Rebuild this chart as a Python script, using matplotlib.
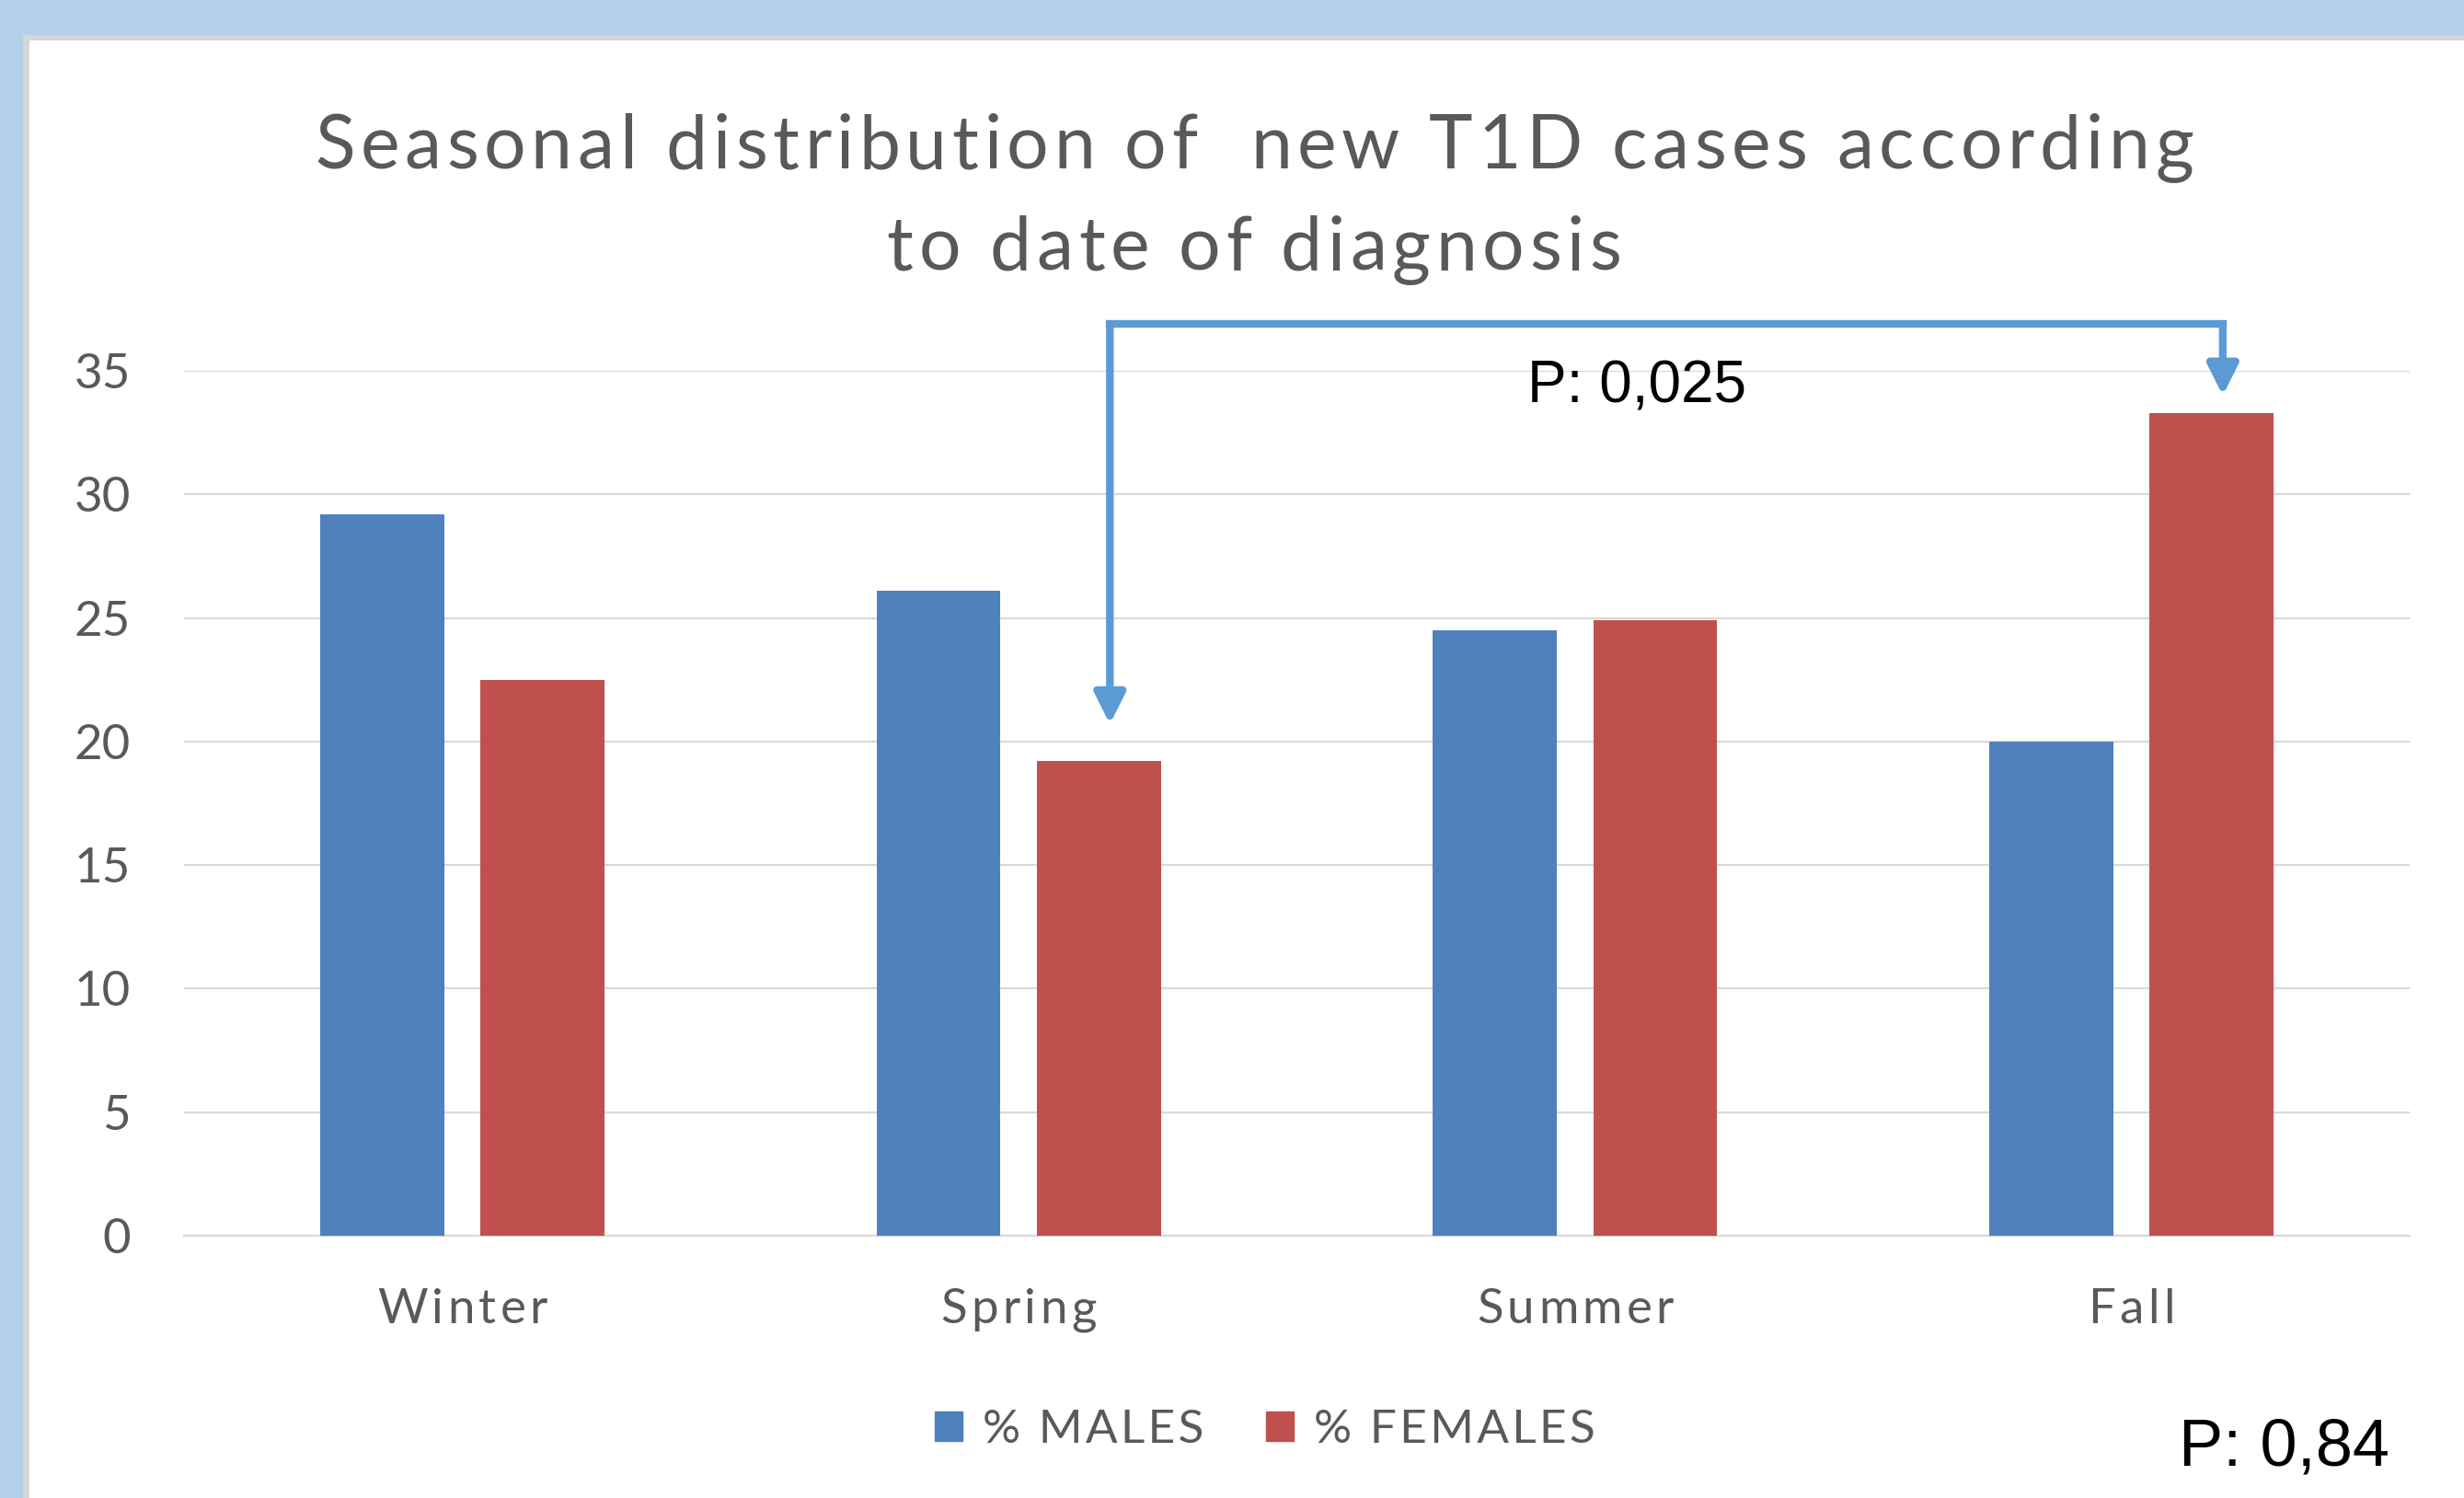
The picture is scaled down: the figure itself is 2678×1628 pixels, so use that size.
import matplotlib.pyplot as plt
from matplotlib.patches import Rectangle, Patch
from matplotlib.transforms import IdentityTransform

# data (% of new cases per season)
seasons = ['Winter', 'Spring', 'Summer', 'Fall']
males = [29.2, 26.1, 24.5, 20.0]
females = [22.5, 19.2, 24.9, 33.3]
yticks = [0, 5, 10, 15, 20, 25, 30, 35]

title_lines = ['Seasonal distribution of  new T1D cases according', 'to date of diagnosis']
legend_labels = ['% MALES', '% FEMALES']
p_seasonal = 'P: 0,025'
p_overall = 'P: 0,84'

W, H = 2678, 1628
blue = '#4F81BD'
red = '#C0504D'
arrow_c = '#5B9BD5'
txt_c = '#595959'
grid_c = '#D9D9D9'
font = ['Lato', 'DejaVu Sans']

fig = plt.figure(figsize=(W / 100, H / 100), dpi=100)
fig.patch.set_facecolor('white')
renderer = fig.canvas.get_renderer()


def frac(x, y, w, h):
    # pixel box (top-left origin) -> figure fraction rect
    return (x / W, 1 - (y + h) / H), w / W, h / H


def tracked_text(cx, y_top, s, track, **kw):
    # draw s centred at pixel cx, baseline y_top (from top), with extra letter spacing
    probe = fig.text(0, 0, s, transform=IdentityTransform(), **kw)

    def width(t):
        probe.set_text(t)
        return probe.get_window_extent(renderer).width

    total = width(s) + track * (len(s) - 1)
    x0 = cx - total / 2
    for i, c in enumerate(s):
        if c == ' ':
            continue
        right = width(s[:i + 1])
        fig.text(x0 + right + i * track, H - y_top, c, ha='right', va='baseline',
                 transform=IdentityTransform(), **kw)
    probe.remove()


# window-like frame: blue band top/left, thin grey edge
for (x, y, w, h), c in [((0, 0, W, H), '#B4CFE9'),
                        ((25, 38, W - 25, H - 38), '#D6D6D6'),
                        ((32, 44, W - 32, H - 44), 'white')]:
    xy, fw, fh = frac(x, y, w, h)
    fig.patches.append(Rectangle(xy, fw, fh, transform=fig.transFigure,
                                 facecolor=c, edgecolor='none', zorder=-10))

ax = fig.add_axes([200 / W, 1 - 1343 / H, (2619 - 200) / W, (1343 - 403) / H])
ax.set_facecolor('none')

bw = 0.223
off = 0.144
x = list(range(len(seasons)))
ax.bar([i - off for i in x], males, width=bw, color=blue, zorder=3, label=legend_labels[0])
ax.bar([i + off for i in x], females, width=bw, color=red, zorder=3, label=legend_labels[1])

ax.set_xlim(-0.5, 3.5)
ax.set_ylim(0, 35)
ax.set_yticks(yticks)
ax.set_xticks(x)
ax.tick_params(axis='x', labelbottom=False)
ax.yaxis.grid(True, color=grid_c, lw=1.6, zorder=0)
ax.set_axisbelow(True)
for s in ['top', 'right', 'left']:
    ax.spines[s].set_visible(False)
ax.spines['bottom'].set_color(grid_c)
ax.spines['bottom'].set_linewidth(1.6)
ax.tick_params(axis='both', length=0, colors=txt_c, labelsize=38)
ax.tick_params(axis='y', pad=42)
for lab in ax.get_yticklabels():
    lab.set_fontfamily(font)

# category labels, spaced like the original
for i, name in enumerate(seasons):
    cx = ax.transData.transform((i, 0))[0]
    tracked_text(cx, 1438, name, 4.4, fontsize=38, color=txt_c, family=font)

# significance bracket Spring females -> Fall females
xa = 1 + off + 0.02
xb = 3 + off + 0.02
top = 36.9
ax.plot([xa, xb], [top, top], color=arrow_c, lw=6, clip_on=False,
        solid_capstyle='projecting', zorder=5)
for xx, tip in [(xa, 20.7), (xb, 34.0)]:
    ax.annotate('', xy=(xx, tip), xytext=(xx, top), annotation_clip=False,
                arrowprops=dict(arrowstyle='-|>,head_length=1.0,head_width=0.5',
                                color=arrow_c, lw=6, mutation_scale=20,
                                shrinkA=0, shrinkB=0), zorder=5)

# title
tracked_text(1363, 183, title_lines[0], 5.6, fontsize=58, color=txt_c, family=font)
tracked_text(1363, 294, title_lines[1], 5.6, fontsize=58, color=txt_c, family=font)

# p values
fig.text(1779 / W, 1 - 437 / H, p_seasonal, ha='center', va='baseline',
         fontsize=46, color='black', family='Liberation Sans')
fig.text(2482 / W, 1 - 1592 / H, p_overall, ha='center', va='baseline',
         fontsize=52, color='black', family='Liberation Sans')

# hair spaces widen the legend text a little, as in the original
hair = '\u200a'
handles = [Patch(color=blue, label=hair.join(legend_labels[0])),
           Patch(color=red, label=hair.join(legend_labels[1]))]
leg = fig.legend(handles=handles, loc='center', ncol=2, frameon=False,
                 bbox_to_anchor=(1375 / W, 1 - 1554 / H),
                 prop={'family': font, 'size': 37},
                 handlelength=0.57, handleheight=0.57, handletextpad=0.43,
                 columnspacing=1.33, labelcolor=txt_c)

fig.savefig('out.png', dpi=100)
